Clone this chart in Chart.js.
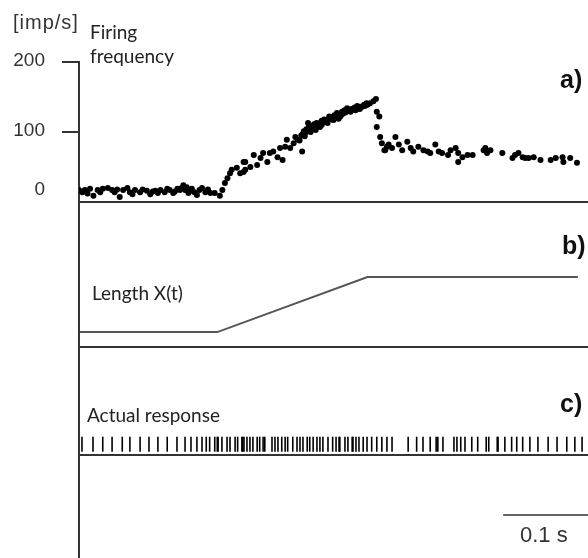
<!DOCTYPE html>
<html>
<head>
<meta charset="utf-8">
<script src="https://cdn.jsdelivr.net/npm/chart.js@4/dist/chart.umd.min.js"></script>
<style>
  body { margin: 0; background: #fff; overflow: hidden; }
  #wrap { position: relative; width: 588px; height: 558px; }
  canvas { position: absolute; left: 0; top: 0; }
  .txt { position: absolute; white-space: nowrap; line-height: 1; color: #222; }
  .sans { font-family: "Liberation Sans", Arial, sans-serif; color: #333; }
  .cal { font-family: Lato, "Open Sans", sans-serif; font-size: 19px; }
  .tag { font-family: "Liberation Sans", Arial, sans-serif; font-weight: bold; font-size: 25px; color: #111; }
</style>
</head>
<body>
<div id="wrap">
  <canvas id="traces" width="588" height="558"></canvas>
  <div class="txt sans" style="left:13px; top:12px; font-size:20px; letter-spacing:1px;">[imp/s]</div>
  <div class="txt cal" style="left:90px; top:22px;">Firing</div>
  <div class="txt cal" style="left:90px; top:46px;">frequency</div>
  <div class="txt tag" style="left:560px; top:67px;">a)</div>
  <div class="txt tag" style="left:562px; top:233px;">b)</div>
  <div class="txt tag" style="left:560px; top:391px;">c)</div>
  <div class="txt cal" style="left:92px; top:283px;">Length X(t)</div>
  <div class="txt cal" style="left:87px; top:405px;">Actual response</div>
  <div class="txt sans" style="left:520px; top:524px; font-size:22px;">0.1 s</div>
</div>
<script>
// time in ms, firing rate in imp/s
const rateTimes = [
  0, 4, 7, 13, 17, 22, 28, 34, 39, 42, 48, 52, 57, 60, 66, 72, 80, 84, 90, 96,
  101, 107, 111, 116, 119, 123, 125, 129, 133, 139, 145, 149, 155, 160, 166, 169,
  172, 175, 178, 180, 186, 190, 194, 196, 194, 196, 202, 206, 210, 214, 217, 222,
  225, 229, 234, 237, 240, 243, 245, 249, 253, 255, 258, 263, 263, 267, 270, 273,
  276, 281, 284, 288, 293, 296, 300, 304, 308, 312, 316, 320, 323, 329, 334, 340,
  343, 347, 350, 351, 354, 351, 355, 357, 360, 363,
  361, 365, 369, 373, 377, 381, 387, 391, 394, 400, 406, 411, 414, 420, 424, 428,
  435, 438, 444, 447, 447, 452, 458, 464, 477, 479, 481, 485, 499, 511, 514, 518,
  523, 526, 530, 536, 544, 556, 562, 570, 571, 579, 587,
  // denser parts of the baseline and the ramp
  10, 25, 45, 63, 75, 87, 93, 104, 113, 121, 127, 131, 136, 142, 152,
  260, 266, 272, 279, 286, 291, 298, 302, 306, 310, 314, 318, 326, 331, 337,
  262, 265, 268, 271, 274, 277, 280, 283, 286, 289, 292, 295, 298, 301, 304,
  307, 310, 313, 317, 321, 325, 328, 332, 336, 339
];
const rateValues = [
  17, 14, 17, 19, 9, 17, 19, 20, 17, 14, 7, 17, 20, 14, 17, 14, 16, 11, 16, 17,
  14, 17, 13, 19, 17, 24, 17, 13, 19, 10, 20, 14, 13, 13, 9, 17,
  27, 34, 41, 46, 49, 41, 57, 46, 43, 57, 50, 67, 53, 63, 70, 57,
  70, 72, 64, 77, 60, 79, 89, 77, 84, 93, 89, 72, 96, 99, 113, 100,
  106, 110, 107, 114, 113, 120, 117, 124, 122, 127, 134, 129, 132, 134, 136, 139,
  141, 144, 147, 129, 122, 107, 93, 84, 74, 79,
  74, 82, 77, 93, 82, 74, 86, 77, 72, 79, 74, 72, 70, 82, 72, 70,
  67, 74, 77, 70, 57, 64, 67, 67, 74, 77, 70, 74, 70, 63, 67, 70,
  64, 63, 63, 64, 60, 60, 63, 64, 57, 63, 56,
  12, 14, 18, 11, 18, 15, 13, 19, 15, 20, 21, 16, 14, 17, 18,
  88, 94, 101, 103, 110, 115, 118, 121, 119, 125, 128, 131, 131, 133, 137,
  95, 101, 104, 108, 104, 111, 113, 112, 116, 118, 117, 122, 121, 124, 127,
  126, 129, 131, 130, 133, 135, 137, 136, 139, 141
];

// spike times of the recorded response, ms
const spikeTimes = [
  3.5, 16.5, 28, 39, 51, 60, 72, 82.5, 93, 104, 115.5, 125, 132, 139, 145, 150,
  154, 160, 163, 164, 168.5, 174.5, 178, 184, 187, 192, 193, 194.5, 198, 201.5,
  205, 210, 213, 217, 219, 227.5, 231, 234.5, 239, 243, 246, 252, 257, 260.5,
  264, 269, 272, 276, 280.5, 284, 287.5, 293.5, 299, 303, 306.5, 307.5, 313.5,
  317, 322, 323, 326.5, 330, 335, 339.5, 345, 351, 357, 363, 369, 388, 398,
  405.5, 414, 421, 423, 429, 442, 445.5, 450, 455, 463, 470, 480, 483, 493, 494,
  502, 510, 516, 523, 531.5, 541, 553, 563.5, 575, 584.5, 593
];

// stretch: length held, ramped, then held
const lengthTimes = [1, 163, 340, 588];
const lengthValues = [1.03, 1.03, 4.83, 4.83];

// 0.1 s scale bar
const barTimes = [500, 600];

const rateTicks = [0, 100, 200];

const spikeLevel = 1.0;
const barLevel = 4.17;

const rateData = rateTimes.map((t, i) => ({ x: t, y: rateValues[i] }));
const spikeData = spikeTimes.map(t => ({ x: t, y: spikeLevel }));
const lengthData = lengthTimes.map((t, i) => ({ x: t, y: lengthValues[i] }));
const barData = barTimes.map(t => ({ x: t, y: barLevel }));

const axisColor = '#333';

function fixWidth(scale) {
    scale.width = 79;
    scale.paddingTop = 0;
    scale.paddingBottom = 0;
}

function baselineOnly(ctx) {
    return ctx.tick && ctx.tick.value === 0 ? axisColor : 'rgba(0,0,0,0)';
}

function panelAxis(weight, stackWeight, withBaseline) {
    return {
        type: 'linear',
        position: 'left',
        stack: 'panels',
        stackWeight: stackWeight,
        weight: weight,
        min: 0,
        max: 10,
        ticks: { display: false, stepSize: 10 },
        grid: {
            drawTicks: false,
            lineWidth: 2,
            color: withBaseline ? baselineOnly : 'rgba(0,0,0,0)'
        },
        border: { display: true, color: axisColor, width: 2 },
        afterFit: fixWidth
    };
}

new Chart(document.getElementById('traces'), {
    type: 'scatter',
    data: {
        datasets: [
            {
                data: rateData,
                yAxisID: 'yRate',
                pointRadius: 3,
                pointBackgroundColor: '#000',
                pointBorderWidth: 0,
                showLine: false
            },
            {
                data: lengthData,
                yAxisID: 'yLength',
                showLine: true,
                borderColor: '#555',
                borderWidth: 2,
                pointRadius: 0,
                tension: 0
            },
            {
                data: spikeData,
                yAxisID: 'ySpikes',
                showLine: false,
                pointStyle: 'line',
                rotation: 90,
                pointRadius: 7.5,
                pointBorderColor: '#000',
                pointBorderWidth: 1.6
            },
            {
                data: barData,
                yAxisID: 'yBar',
                showLine: true,
                borderColor: '#333',
                borderWidth: 1.5,
                pointRadius: 0
            }
        ]
    },
    options: {
        responsive: false,
        animation: false,
        devicePixelRatio: 1,
        layout: { autoPadding: false, padding: { top: 62, left: 0, right: 0, bottom: 0 } },
        plugins: {
            legend: { display: false },
            tooltip: { enabled: false }
        },
        scales: {
            x: {
                type: 'linear',
                min: 0,
                max: 600,
                display: false
            },
            yRate: {
                type: 'linear',
                position: 'left',
                stack: 'panels',
                stackWeight: 140,
                weight: 4,
                min: 0,
                max: 200,
                afterBuildTicks: scale => {
                    scale.ticks = rateTicks.map(v => ({ value: v }));
                },
                ticks: {
                    autoSkip: false,
                    padding: 17,
                    color: '#333',
                    labelOffset: -1,
                    font: { family: '"Liberation Sans", Arial, sans-serif', size: 19 },
                    callback: v => (v === 0 ? ['0', ''] : String(v))
                },
                grid: {
                    lineWidth: 2,
                    tickLength: 17,
                    color: baselineOnly,
                    tickColor: ctx => (ctx.tick && ctx.tick.value === 0 ? 'rgba(0,0,0,0)' : axisColor)
                },
                border: { display: true, color: axisColor, width: 2 },
                afterFit: fixWidth
            },
            yLength: panelAxis(3, 145, true),
            ySpikes: panelAxis(2, 108, true),
            yBar: panelAxis(1, 103, false)
        }
    }
});
</script>
</body>
</html>
